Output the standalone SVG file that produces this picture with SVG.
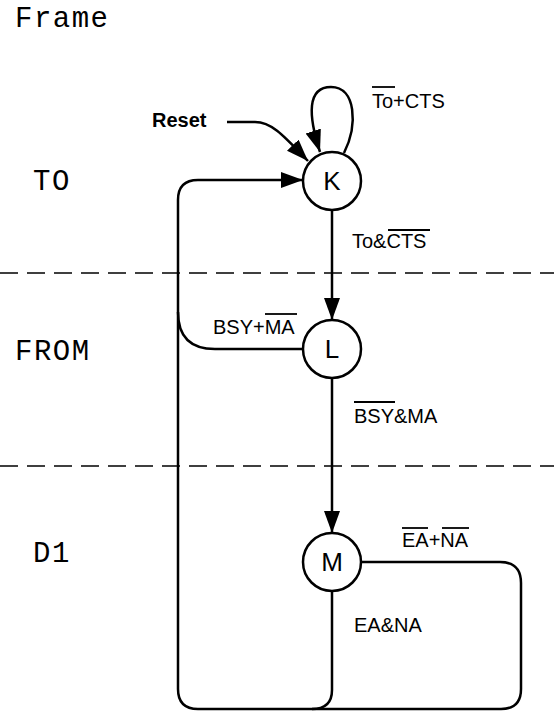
<svg xmlns="http://www.w3.org/2000/svg" width="554" height="713" viewBox="0 0 554 713">
<style>
.node{fill:#fff;stroke:#000;stroke-width:2.5}
.nl{font-family:"Liberation Sans",Arial,sans-serif;font-size:26px;fill:#000;text-anchor:middle}
.lbl{font-family:"Liberation Sans",Arial,sans-serif;font-size:20px;fill:#000}
.mono{font-family:"Liberation Mono","Courier New",monospace;font-size:29px;letter-spacing:1.5px;fill:#000}
.edge{fill:none;stroke:#000;stroke-width:2.5}
.ol{stroke:#000;stroke-width:1.8}
.dash{stroke:#000;stroke-width:1.6;stroke-dasharray:18 9}
</style>
<defs>
<marker id="arr" markerUnits="userSpaceOnUse" markerWidth="24" markerHeight="18" refX="22" refY="8" orient="auto" viewBox="0 0 24 18">
<path d="M0,0 L22,8 L0,16 z" fill="#000"/>
</marker>
</defs>
<rect width="554" height="713" fill="#fff"/>
<g id="regions">
<line class="dash" x1="0" y1="273" x2="554" y2="273"/>
<line class="dash" x1="0" y1="466" x2="554" y2="466"/>
<text class="mono" x="15" y="27">Frame</text>
<text class="mono" x="33" y="190">TO</text>
<text class="mono" x="15" y="360">FROM</text>
<text class="mono" x="33" y="562">D1</text>
</g>
<g id="connectors">
<path class="edge" d="M227,122 L255,122 C272,122 284,136 308,161" marker-end="url(#arr)"/>
<path class="edge" d="M344,153 C358,125 356,87 331,87 C307,87 308,115 320,152" marker-end="url(#arr)"/>
<path class="edge" d="M332,210 L332,320" marker-end="url(#arr)"/>
<path class="edge" d="M332,378 L332,533" marker-end="url(#arr)"/>
<path class="edge" d="M303,349 L215,349 C190,349 178,336 178,312"/>
<path class="edge" d="M332,591 L332,690 Q332,709 312,709 L198,709 Q178,709 178,689 L178,200 Q178,180 198,180 L303,180" marker-end="url(#arr)"/>
<path class="edge" d="M361,562 L500,562 Q521,562 521,583 L521,689 Q521,709 501,709 L312,709"/>
</g>
<g id="labels">
<text class="lbl" x="152" y="127" font-weight="bold">Reset</text>
<text class="lbl" x="372" y="108">To+CTS</text>
<line class="ol" x1="372" y1="87" x2="395" y2="87"/>
<text class="lbl" x="352" y="248">To&amp;CTS</text>
<line class="ol" x1="388" y1="230" x2="430" y2="230"/>
<text class="lbl" x="213" y="334">BSY+MA</text>
<line class="ol" x1="265" y1="314" x2="297" y2="314"/>
<text class="lbl" x="354" y="423">BSY&amp;MA</text>
<line class="ol" x1="354" y1="402" x2="395" y2="402"/>
<text class="lbl" x="402" y="547">EA+NA</text>
<line class="ol" x1="402" y1="528" x2="428" y2="528"/>
<line class="ol" x1="442" y1="528" x2="469" y2="528"/>
<text class="lbl" x="354" y="632">EA&amp;NA</text>
</g>
<g id="node-K">
<circle class="node" cx="332" cy="181" r="29"/>
<text class="nl" x="332" y="190">K</text>
</g>
<g id="node-L">
<circle class="node" cx="332" cy="349" r="29"/>
<text class="nl" x="332" y="358">L</text>
</g>
<g id="node-M">
<circle class="node" cx="332" cy="562" r="29"/>
<text class="nl" x="332" y="571">M</text>
</g>
</svg>
